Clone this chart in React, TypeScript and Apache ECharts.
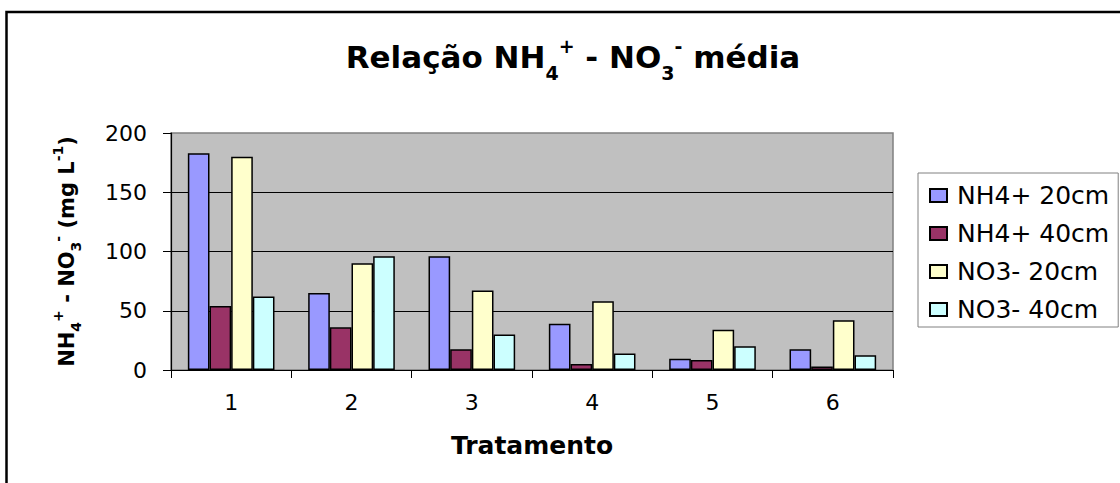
import React, { useEffect, useRef } from 'react';
import * as echarts from 'echarts';

const categories = ['1', '2', '3', '4', '5', '6'];
const seriesNames = ['NH4+ 20cm', 'NH4+ 40cm', 'NO3- 20cm', 'NO3- 40cm'];
const nh4_20 = [183, 65, 96, 39, 9.5, 17.5];
const nh4_40 = [54, 36, 17.5, 5, 8.5, 3];
const no3_20 = [180, 90, 67, 58, 34, 42];
const no3_40 = [62, 96, 30, 14, 20, 12.5];
const seriesValues = [nh4_20, nh4_40, no3_20, no3_40];
const seriesColors = ['#9999FF', '#993366', '#FFFFCC', '#CCFFFF'];
const yMin = 0;
const yMax = 200;
const yInterval = 50;

const F = 'DejaVu Sans';

export default function App() {
  const ref = useRef<HTMLDivElement>(null);
  useEffect(() => {
    if (!ref.current) return;
    const chart = echarts.init(ref.current, null, { renderer: 'svg' });
    const bold = { fontFamily: F, fontWeight: 'bold' as const, color: '#000' };
    chart.setOption({
      animation: false,
      textStyle: { fontFamily: F },
      title: {
        text: 'Relação NH{sub|4}{sup|+} - NO{sub|3}{sup|-} média',
        left: 573,
        top: 32,
        padding: 0,
        textAlign: 'center',
        textStyle: {
          ...bold,
          fontSize: 31,
          lineHeight: 50,
          rich: {
            sub: { ...bold, fontSize: 19, lineHeight: 19, verticalAlign: 'bottom' },
            sup: { ...bold, fontSize: 19, lineHeight: 19, verticalAlign: 'top', padding: [4, 0, 0, 0] },
          },
        },
      },
      graphic: [
        {
          type: 'rect',
          silent: true,
          z: -10,
          shape: { x: 6.5, y: 12, width: 1300, height: 700 },
          style: { fill: 'none', stroke: '#000', lineWidth: 2.5 },
        },
      ],
      grid: {
        left: 171,
        right: 227,
        top: 133,
        bottom: 113,
        show: true,
        backgroundColor: '#C0C0C0',
        borderColor: '#808080',
        borderWidth: 1.5,
      },
      legend: {
        orient: 'vertical',
        left: 918,
        top: 173,
        padding: [10, 9, 5, 11],
        itemGap: 13,
        itemWidth: 17,
        itemHeight: 13,
        icon: 'rect',
        borderColor: '#808080',
        borderWidth: 1,
        backgroundColor: '#fff',
        data: seriesNames,
        textStyle: { fontFamily: F, fontSize: 25, lineHeight: 25, color: '#000', padding: [0, 0, 0, 5] },
      },
      xAxis: {
        type: 'category',
        data: categories,
        axisLine: { lineStyle: { color: '#000', width: 1.2 } },
        axisTick: { show: true, length: 8, alignWithLabel: false, lineStyle: { color: '#000' } },
        axisLabel: { fontFamily: F, fontSize: 22, color: '#000', margin: 21 },
        name: 'Tratamento',
        nameLocation: 'middle',
        nameGap: 63,
        nameTextStyle: { ...bold, fontSize: 25 },
      },
      yAxis: {
        type: 'value',
        min: yMin,
        max: yMax,
        interval: yInterval,
        axisLine: { show: true, lineStyle: { color: '#000', width: 1.2 } },
        axisTick: { show: true, length: 8, lineStyle: { color: '#000' } },
        axisLabel: { fontFamily: F, fontSize: 22, color: '#000', margin: 24 },
        splitLine: { show: true, showMaxLine: false, lineStyle: { color: '#000', width: 1 } },
        name: '{b|NH}{s|4}{p|+}{b| - NO}{s|3}{p|-}{b| (mg L}{p|-1}{b|)}',
        nameLocation: 'middle',
        nameRotate: 90,
        nameGap: 88,
        nameTextStyle: {
          ...bold,
          fontSize: 21,
          rich: {
            b: { ...bold, fontSize: 21, lineHeight: 32 },
            s: { ...bold, fontSize: 14, lineHeight: 14, verticalAlign: 'bottom' },
            p: { ...bold, fontSize: 14, lineHeight: 14, verticalAlign: 'top' },
          },
        },
      },
      series: seriesNames.map((name, i) => ({
        name,
        type: 'bar',
        data: seriesValues[i],
        barGap: '0%',
        barCategoryGap: '28%',
        itemStyle: { color: seriesColors[i], borderColor: '#000', borderWidth: 1.5 },
      })),
    });
    return () => chart.dispose();
  }, []);
  return <div ref={ref} style={{ position: 'absolute', left: 0, top: 0, width: 1120, height: 483 }} />;
}
